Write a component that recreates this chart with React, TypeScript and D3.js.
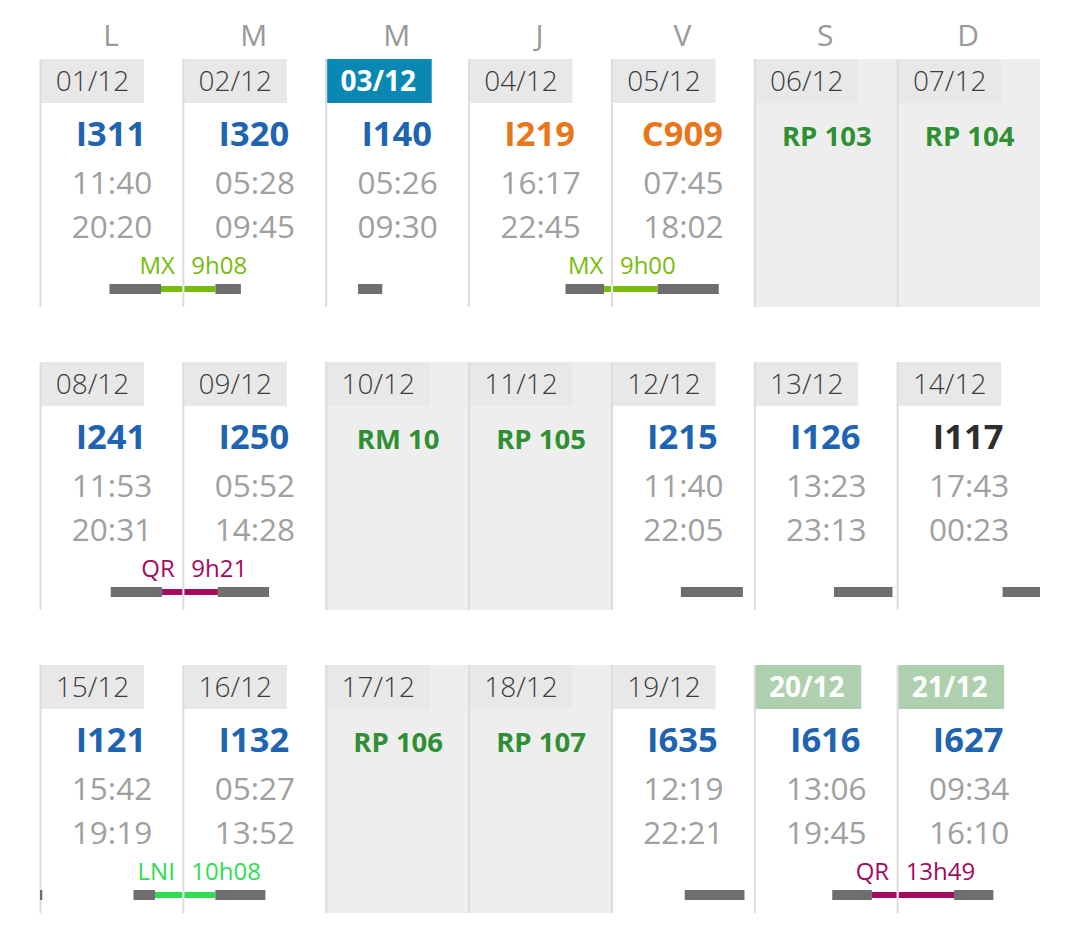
import * as d3 from "d3";
import React from "react";

const weekDays = ["L", "M", "M", "J", "V", "S", "D"];

const dates = [
  "01/12", "02/12", "03/12", "04/12", "05/12", "06/12", "07/12",
  "08/12", "09/12", "10/12", "11/12", "12/12", "13/12", "14/12",
  "15/12", "16/12", "17/12", "18/12", "19/12", "20/12", "21/12",
];

const codes = [
  "I311", "I320", "I140", "I219", "C909", "RP 103", "RP 104",
  "I241", "I250", "RM 10", "RP 105", "I215", "I126", "I117",
  "I121", "I132", "RP 106", "RP 107", "I635", "I616", "I627",
];

const starts = [
  "11:40", "05:28", "05:26", "16:17", "07:45", "", "",
  "11:53", "05:52", "", "", "11:40", "13:23", "17:43",
  "15:42", "05:27", "", "", "12:19", "13:06", "09:34",
];

const ends = [
  "20:20", "09:45", "09:30", "22:45", "18:02", "", "",
  "20:31", "14:28", "", "", "22:05", "23:13", "00:23",
  "19:19", "13:52", "", "", "22:21", "19:45", "16:10",
];

// b = bleu, o = orange, k = noir, r = repos
const codeKinds = [
  "b", "b", "b", "o", "o", "r", "r",
  "b", "b", "r", "r", "b", "b", "k",
  "b", "b", "r", "r", "b", "b", "b",
];

// index du jour ou le repos commence
const restDays = [0, 3, 7, 14, 19];
const restTypes = ["MX", "MX", "QR", "LNI", "QR"];
const restLabels = ["9h08", "9h00", "9h21", "10h08", "13h49"];

const todayIndex = 2;
const holidayIndexes = [19, 20];

const kindColors: Record<string, string> = {
  b: "#1f64b0",
  o: "#e8761a",
  k: "#2e2e2e",
  r: "#2f8f33",
};
const restColors: Record<string, string> = {
  MX: "#78bc0a",
  QR: "#a30a5e",
  LNI: "#2fdc52",
};

const font = "'Open Sans', 'Noto Sans', sans-serif";

const toHours = (s: string) => {
  const [h, m] = s.split(":").map(Number);
  return h + m / 60;
};

const x = d3.scaleLinear().domain([0, 7]).range([40, 1040]);
const rowY = d3.scaleLinear().domain([0, 1]).range([59, 362]);
const cellWidth = x(1) - x(0);
const rowHeight = 248;

// position dans une journee : colonne + fraction des 24h
const hourX = (col: number, hours: number) =>
  d3.scaleLinear().domain([0, 24]).range([x(col), x(col + 1)])(hours);

const colOf = (i: number) => i % 7;
const rowOf = (i: number) => Math.floor(i / 7);

const App: React.FC = () => {
  return (
    <svg
      width={1080}
      height={950}
      style={{ position: "absolute", left: 0, top: 0, background: "#fff" }}
      fontFamily={font}
    >
      {weekDays.map((d, i) => (
        <text
          key={i}
          x={x(i) + 71}
          y={46}
          textAnchor="middle"
          fontSize={30}
          fill="#999"
        >
          {d}
        </text>
      ))}

      {dates.map((date, i) => {
        const col = colOf(i);
        const y0 = rowY(rowOf(i));
        const isRest = codeKinds[i] === "r";
        const isToday = i === todayIndex;
        const isHoliday = holidayIndexes.includes(i);
        const special = isToday || isHoliday;
        const tagFill = isToday ? "#0a88b4" : isHoliday ? "#aed0ae" : "#e8e8e8";
        return (
          <g key={date}>
            {isRest && (
              <rect
                x={x(col)}
                y={y0}
                width={cellWidth}
                height={rowHeight}
                fill="#eeeeee"
              />
            )}
            <rect
              x={x(col)}
              y={y0}
              width={isHoliday ? 107 : isToday ? 106 : 104}
              height={44}
              fill={tagFill}
            />
            <rect
              x={x(col) - 0.5}
              y={y0}
              width={2}
              height={rowHeight}
              fill="#dcdcdc"
            />
            <text
              x={x(col) + 52.5}
              y={y0 + 32}
              textAnchor="middle"
              fontSize={28}
              fontWeight={special ? 700 : 300}
              fill={special ? "#fff" : "#3c3c3c"}
            >
              {date}
            </text>
            <text
              x={x(col) + (isRest ? 72.5 : 71)}
              y={y0 + 86.5}
              textAnchor="middle"
              fontSize={isRest ? 27.5 : 34.5}
              fontWeight={700}
              fill={kindColors[codeKinds[i]]}
            >
              {codes[i]}
            </text>
            {!isRest && (
              <g fontSize={31.5} fill="#a0a0a0" textAnchor="middle">
                <text x={x(col) + 72} y={y0 + 134.5}>
                  {starts[i]}
                </text>
                <text x={x(col) + 72} y={y0 + 178.5}>
                  {ends[i]}
                </text>
              </g>
            )}
          </g>
        );
      })}

      {/* barres de service, coupees a minuit si besoin */}
      {dates.map((date, i) => {
        if (!starts[i]) return null;
        const col = colOf(i);
        const barY = rowY(rowOf(i)) + 225;
        const s = toHours(starts[i]);
        const e = toHours(ends[i]);
        const overnight = e < s;
        return (
          <g key={date} fill="#6e6e6e">
            <rect
              x={hourX(col, s)}
              y={barY}
              width={hourX(col, overnight ? 24 : e) - hourX(col, s)}
              height={10}
            />
            {overnight && i + 1 < dates.length && (
              <rect
                x={hourX(colOf(i + 1), 0)}
                y={rowY(rowOf(i + 1)) + 225}
                width={hourX(colOf(i + 1), e) - hourX(colOf(i + 1), 0)}
                height={10}
              />
            )}
          </g>
        );
      })}

      {/* repos entre deux services */}
      {restDays.map((day, k) => {
        const col = colOf(day);
        const y0 = rowY(rowOf(day));
        const color = restColors[restTypes[k]];
        const x1 = hourX(col, toHours(ends[day]));
        const x2 = hourX(col + 1, toHours(starts[day + 1]));
        return (
          <g key={day}>
            <rect x={x1} y={y0 + 227} width={x2 - x1} height={6} fill={color} />
            <rect x={x(col + 1) - 0.5} y={y0 + 227} width={2} height={6} fill="#fff" />
            <g fontSize={24} fill={color}>
              <text x={x(col + 1) - 8} y={y0 + 215} textAnchor="end">
                {restTypes[k]}
              </text>
              <text x={x(col + 1) + 8.5} y={y0 + 215}>
                {restLabels[k]}
              </text>
            </g>
          </g>
        );
      })}
    </svg>
  );
};

export default App;
